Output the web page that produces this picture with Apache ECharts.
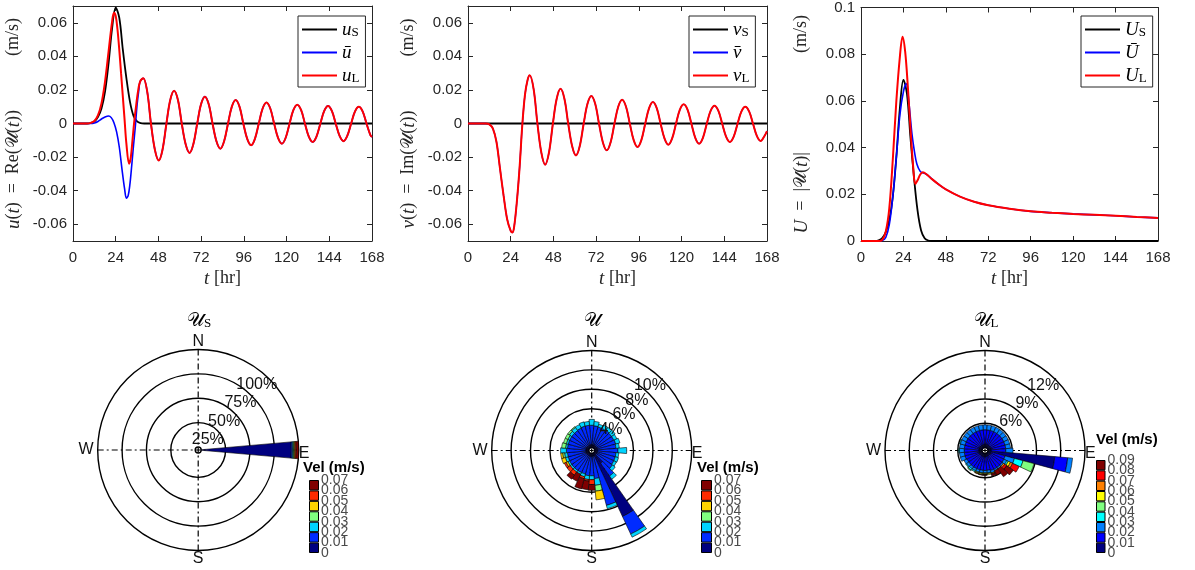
<!DOCTYPE html>
<html><head><meta charset="utf-8">
<script src="https://cdn.jsdelivr.net/npm/echarts@6/dist/echarts.min.js"></script>
<style>html,body{margin:0;padding:0;background:#fff}#c{width:1195px;height:570px}</style>
</head><body><div id="c"></div>
<script>
// ================= DATA =================
const xTicks = [0, 24, 48, 72, 96, 120, 144, 168];
const yTicksUV = [-0.06, -0.04, -0.02, 0, 0.02, 0.04, 0.06];
const yTicksMag = [0, 0.02, 0.04, 0.06, 0.08, 0.1];

// Stokes drift (u_S, also |U_S|)
const tS = [0, 8, 10, 12, 14, 16, 18, 20, 22, 24, 26, 28, 30, 32, 34, 36, 38, 40, 168];
const uS = [0, 0, 0.0003, 0.0012, 0.0038, 0.009, 0.019, 0.036, 0.057, 0.069, 0.063, 0.044, 0.027, 0.013, 0.0045, 0.0012, 0.0002, 0, 0];

// u_L early part
const tULe = [0, 8, 10, 12, 14, 16, 18, 20, 22, 23, 24, 25, 26, 27, 28, 29, 30, 31.5, 32.5, 33.5, 34.5, 35.5, 36.5, 37.7];
const uLe  = [0, 0, 0.0004, 0.0015, 0.0048, 0.012, 0.025, 0.043, 0.061, 0.066, 0.064, 0.056, 0.044, 0.03, 0.016, 0.002, -0.012, -0.024, -0.02, -0.009, 0.002, 0.011, 0.019, 0.025];
// u-bar early part
const tUbe = [0, 10, 12, 14, 16, 18, 20, 21.5, 23, 24.5, 26, 27.5, 29, 30, 31, 32, 33, 34, 35, 36, 37, 37.7];
const uBe  = [0, 0, 0.0003, 0.0012, 0.0027, 0.0039, 0.0045, 0.0035, 0.0005, -0.005, -0.014, -0.027, -0.039, -0.0445, -0.043, -0.036, -0.025, -0.013, -0.002, 0.011, 0.02, 0.025];
// common inertial-oscillation tail of u_L and u-bar
const tUt = [39.5,41.7,43.8,46.0,48.2,50.3,52.5,54.6,56.8,59.0,61.1,63.3,65.5,67.6,69.8,71.9,74.1,76.3,78.4,80.6,82.8,84.9,87.1,89.2,91.4,93.6,95.7,97.9,100.1,102.2,104.4,106.5,108.7,110.9,113.0,115.2,117.4,119.5,121.7,123.8,126.0,128.2,130.3,132.5,134.7,136.8,139.0,141.1,143.3,145.5,147.6,149.8,152.0,154.1,156.3,158.4,160.6,162.8,164.9,167.1,168];
const uTail = [0.027,0.019,0,-0.0156,-0.022,-0.0156,0,0.0138,0.0195,0.0138,0,-0.0124,-0.0175,-0.0124,0,0.0113,0.016,0.0113,0,-0.0106,-0.015,-0.0106,0,0.0099,0.014,0.0099,0,-0.0092,-0.013,-0.0092,0,0.0088,0.0125,0.0088,0,-0.0085,-0.012,-0.0085,0,0.0079,0.0112,0.0079,0,-0.0078,-0.011,-0.0078,0,0.0074,0.0105,0.0074,0,-0.0074,-0.0105,-0.0074,0,0.0071,0.010,0.0071,0,-0.0069,-0.008];

// v
const tVS = [0, 168];
const vS = [0, 0];
const tVe = [0, 10, 12, 14, 16, 18, 20, 22, 24, 25, 26, 27.5, 29, 30.5, 32, 33.5];
const vLe = [0, 0, -0.0005, -0.003, -0.011, -0.027, -0.043, -0.057, -0.064, -0.065, -0.061, -0.046, -0.026, -0.001, 0.017, 0.026];
const tVt = [34.7,36.9,39.0,41.2,43.35,45.5,47.7,49.8,52.0,54.2,56.3,58.5,60.65,62.8,65.0,67.1,69.3,71.5,73.6,75.8,77.95,80.1,82.3,84.4,86.6,88.8,90.9,93.1,95.25,97.4,99.6,101.7,103.9,106.1,108.2,110.4,112.55,114.7,116.9,119.0,121.2,123.4,125.5,127.7,129.85,132.0,134.2,136.3,138.5,140.7,142.8,145.0,147.15,149.3,151.5,153.6,155.8,158.0,160.1,162.3,164.45,166.6,168];
const vTail = [0.0287,0.0203,0,-0.0173,-0.0245,-0.0173,0,0.0146,0.0207,0.0146,0,-0.0134,-0.019,-0.0134,0,0.0116,0.0164,0.0116,0,-0.0113,-0.016,-0.0113,0,0.0100,0.0142,0.0100,0,-0.0099,-0.014,-0.0099,0,0.0090,0.0128,0.0090,0,-0.0089,-0.0126,-0.0089,0,0.0081,0.0114,0.0081,0,-0.0085,-0.012,-0.0085,0,0.0075,0.0106,0.0075,0,-0.0078,-0.011,-0.0078,0,0.0071,0.010,0.0071,0,-0.0074,-0.0104,-0.0074,-0.0045];

// magnitudes
const tMLe = [0, 10, 12, 14, 16, 18, 20, 22, 23.5, 25, 26.5, 28, 29.5, 30.7, 32, 33.5, 35];
const mLe  = [0, 0, 0.0005, 0.004, 0.014, 0.035, 0.060, 0.079, 0.0875, 0.081, 0.066, 0.048, 0.032, 0.0244, 0.026, 0.0285, 0.0294];
const tMBe = [0, 10, 12, 14, 16, 18, 20, 22, 24, 25.6, 27, 28.8, 30.3, 31.6, 33.5, 35];
const mBe  = [0, 0, 0.0002, 0.0015, 0.007, 0.019, 0.036, 0.054, 0.064, 0.0674, 0.060, 0.046, 0.038, 0.033, 0.0298, 0.0292];
const tMt  = [37, 40, 44, 48, 56, 64, 72, 84, 96, 108, 120, 132, 144, 156, 168];
const mTail = [0.0286, 0.0266, 0.0242, 0.0221, 0.0190, 0.0168, 0.0153, 0.0138, 0.0127, 0.0121, 0.0116, 0.0112, 0.0108, 0.0103, 0.0099];

// wind roses: percentage of time per 10-degree direction sector (index k -> k*10 deg from N), per speed bin
const dirCats = ['0','10','20','30','40','50','60','70','80','90','100','110','120','130','140','150','160','170','180','190','200','210','220','230','240','250','260','270','280','290','300','310','320','330','340','350'];
const roseS_dir = 9;                 // all of U_S points east
const roseS_E = [92.5, 1.2, 1.0, 0.9, 0.9, 1.1, 2.4];
const roseMean = [
 [.3,.3,.3,.3,.3,.3,.3,.3,.3,.3,.3,.3,.3,.3,1.3,7.2,.3,.3,.3,.3,.3,.3,.3,.3,.3,.3,.3,.3,.3,.3,.3,.3,.3,.3,.3,.3],
 [2.0,1.95,1.9,1.9,1.95,1.9,1.9,1.95,1.9,2.1,1.9,1.9,1.9,2.0,1.6,2.0,5.25,2.3,2.0,2.0,1.9,1.9,1.9,1.9,1.9,1.9,1.9,2.0,1.9,1.9,1.9,1.9,1.9,1.95,2.0,2.0],
 [.6,.45,.3,.4,.35,.45,.35,.45,.35,.9,.3,.35,.3,.35,.4,.35,.35,.7,.4,.4,.3,.2,.2,.2,.2,.3,.3,.6,.2,.2,.2,.3,.4,.4,.45,.4],
 [0,0,0,0,0,0,0,0,0,0,0,0,0,0,0,0,0,.6,0,0,0,0,0,0,0,0,.2,0,.4,.3,.3,.2,.1,0,0,0],
 [0,0,0,0,0,0,0,0,0,0,0,0,0,0,0,0,0,.9,0,0,0,0,0,0,.2,.4,.2,0,0,0,0,0,0,0,0,0],
 [0,0,0,0,0,0,0,0,0,0,0,0,0,0,0,0,0,0,.5,.15,.2,0,.4,.4,.2,0,0,0,0,0,0,0,0,0,0,0],
 [0,0,0,0,0,0,0,0,0,0,0,0,0,0,0,0,0,0,.6,.9,1.1,.8,.5,0,0,0,0,0,0,0,0,0,0,0,0,0]
];
const roseL = [
 [.4,.4,.4,.4,.4,.4,.4,.4,.4,.4,8.3,.4,.4,.4,.4,.4,.4,.4,.4,.4,.4,.4,.4,.4,.4,.4,.4,.4,.4,.4,.4,.4,.4,.4,.4,.4],
 [1.8,1.8,1.8,1.8,1.8,1.8,1.8,1.8,1.8,1.8,1.6,1.8,1.8,1.8,1.8,1.8,1.8,1.7,1.7,1.7,1.7,1.7,1.7,1.7,1.7,1.8,1.8,1.8,1.8,1.8,1.8,1.8,1.8,1.8,1.8,1.8],
 [.6,.6,.6,.6,.6,.6,.6,.6,.6,.9,.6,1.2,.4,.2,.2,.2,.3,.3,.3,.3,.3,.3,.3,.35,.4,.6,.6,.6,.6,.6,.6,.6,.6,.6,.6,.6],
 [0,0,0,0,0,0,0,0,0,0,0,1.1,.2,0,0,0,0,.1,0,.1,0,.15,.2,.1,0,0,0,.1,0,.1,0,0,0,0,0,0],
 [0,0,0,0,0,0,0,0,0,0,0,1.4,0,0,0,0,0,0,.1,0,.1,0,.1,0,0,0,0,0,0,0,0,0,0,0,0,0],
 [0,0,0,0,0,0,0,0,0,0,0,0,.3,0,0,0,.1,.15,.1,.15,.1,0,0,0,0,0,0,0,0,0,0,0,0,0,0,0],
 [0,0,0,0,0,0,0,0,0,0,0,0,.3,.2,0,0,0,0,.05,0,.05,0,0,0,0,0,0,0,0,0,0,0,0,0,0,0],
 [0,0,0,0,0,0,0,0,0,0,0,0,.9,.3,0,0,.1,0,0,0,0,0,0,0,0,0,0,0,0,0,0,0,0,0,0,0],
 [0,0,0,0,0,0,0,0,0,0,0,0,0,1.0,1.2,.6,.2,0,.05,.05,0,0,0,0,0,0,0,0,0,0,0,0,0,0,0,0]
];
const ringLabelsS = [25, 50, 75, 100];
const ringLabelsM = [4, 6, 8, 10];
const ringLabelsL = [6, 9, 12];
const velEdges7 = [0, 0.01, 0.02, 0.03, 0.04, 0.05, 0.06, 0.07];
const velEdges9 = [0, 0.01, 0.02, 0.03, 0.04, 0.05, 0.06, 0.07, 0.08, 0.09];

// ================= STYLE =================
const jet7 = ['#000080', '#002BFF', '#00D4FF', '#80FF80', '#FFD400', '#FF2B00', '#800000'];
const jet9 = ['#000080', '#0000FF', '#0080FF', '#00FFFF', '#80FF80', '#FFFF00', '#FF8000', '#FF0000', '#800000'];
const AX = '#262626';
const SANS = 'Liberation Sans';
const SERIF = 'Liberation Serif';
const SCRIPT = 'DejaVu Sans';

const pairs = (t, v) => t.map((x, i) => [x, v[i]]);
const fmt = v => String(+(+v).toFixed(3));
const sp = n => ' '.repeat(n);
// split a label list into alternating halves so neighbouring labels never sit on the same axis
const halves = a => [a.filter((_, i) => i % 2 === 0), a.filter((_, i) => i % 2 === 1)];

const chart = echarts.init(document.getElementById('c'));

const grids = [
  {left: 73, top: 6, width: 299, height: 235},
  {left: 468, top: 6, width: 299, height: 235},
  {left: 861, top: 6, width: 297, height: 235},
  {left: 309, top: 480, width: 10, height: 73},
  {left: 701, top: 480, width: 11, height: 73},
  {left: 1096, top: 460, width: 9.5, height: 93}
];

const nameRich = {
  i: {fontFamily: SERIF, fontStyle: 'italic', fontSize: 19, color: AX},
  c: {fontFamily: SCRIPT, fontSize: 17, color: AX}
};
const yNames = [
  '{i|u}({i|t})  =  Re({c|𝒰}({i|t}))' + sp(12) + '(m/s)',
  '{i|v}({i|t})  =  Im({c|𝒰}({i|t}))' + sp(12) + '(m/s)',
  '{i|U}  =  |{c|𝒰}({i|t})|' + sp(22) + '(m/s)'
];
const yRanges = [[-0.07, 0.07, yTicksUV], [-0.07, 0.07, yTicksUV], [0, 0.1, yTicksMag]];

const xAxes = [], yAxes = [];
for (let g = 0; g < 3; g++) {
  const tick = {show: true, inside: true, length: 5, lineStyle: {color: AX, width: 1}};
  const line = {show: true, onZero: false, lineStyle: {color: AX, width: 1}};
  xAxes.push({type: 'value', gridIndex: g, position: 'bottom', min: 0, max: 168, interval: 24,
    axisLine: line, axisTick: tick, splitLine: {show: false},
    axisLabel: {margin: 9, fontSize: 15, color: AX, fontFamily: SANS, customValues: xTicks},
    name: '{i|t} [hr]', nameLocation: 'middle', nameGap: 28,
    nameTextStyle: {fontFamily: SERIF, fontSize: 18, color: AX, rich: nameRich}});
  xAxes.push({type: 'value', gridIndex: g, position: 'top', min: 0, max: 168, interval: 24,
    axisLine: line, axisTick: tick, axisLabel: {show: false}, splitLine: {show: false}});
  const [mn, mx, tk] = yRanges[g];
  yAxes.push({type: 'value', gridIndex: g, position: 'left', min: mn, max: mx,
    axisLine: line, axisTick: Object.assign({customValues: tk}, tick), splitLine: {show: false},
    axisLabel: {customValues: tk, margin: 6, fontSize: 15, color: AX, fontFamily: SANS, formatter: fmt},
    name: yNames[g], nameLocation: 'middle', nameRotate: 90, nameGap: 50,
    nameTextStyle: {fontFamily: SERIF, fontSize: 18, color: AX, rich: nameRich}});
  yAxes.push({type: 'value', gridIndex: g, position: 'right', min: mn, max: mx,
    axisLine: line, axisTick: Object.assign({customValues: tk}, tick), axisLabel: {show: false}, splitLine: {show: false}});
}
// colorbar axes: yAxis 6..8 carry the bars, 9..11 carry the other half of the labels
const cbEdges = [velEdges7, velEdges7, velEdges9];
const cbColors = [jet7, jet7, jet9];
const cbLabel = vals => ({show: true, customValues: vals, showMinLabel: true, showMaxLabel: true,
  margin: 2, fontSize: 14, color: '#4a4a4a', fontFamily: SANS, formatter: fmt});
for (let j = 0; j < 3; j++) {
  xAxes.push({type: 'category', gridIndex: 3 + j, data: ['v'], show: false});
}
for (let h = 0; h < 2; h++) {
  for (let j = 0; j < 3; j++) {
    const e = cbEdges[j];
    yAxes.push({type: 'value', gridIndex: 3 + j, position: 'right', offset: 0, min: 0, max: e[e.length - 1], interval: 0.01,
      axisLine: {show: false}, axisTick: {show: false}, splitLine: {show: false},
      axisLabel: cbLabel(halves(e)[h])});
  }
}

const series = [];
const lineS = (name, xi, data, color, w) => ({
  name, type: 'line', xAxisIndex: xi, yAxisIndex: xi, data, color,
  showSymbol: false, symbol: 'none', smooth: 0.35, lineStyle: {width: w, color}, silent: true
});
series.push(lineS('uS', 0, pairs(tS, uS), '#000000', 1.8));
series.push(lineS('ubar', 0, pairs(tUbe.concat(tUt), uBe.concat(uTail)), '#0000FF', 1.6));
series.push(lineS('uL', 0, pairs(tULe.concat(tUt), uLe.concat(uTail)), '#FF0000', 2));
series.push(lineS('vS', 2, pairs(tVS, vS), '#000000', 1.8));
series.push(lineS('vbar', 2, pairs(tVe.concat(tVt), vLe.concat(vTail)), '#0000FF', 1.4));
series.push(lineS('vL', 2, pairs(tVe.concat(tVt), vLe.concat(vTail)), '#FF0000', 2));
series.push(lineS('US', 4, pairs(tS, uS), '#000000', 1.8));
series.push(lineS('Ubar', 4, pairs(tMBe.concat(tMt), mBe.concat(mTail)), '#0000FF', 1.6));
series.push(lineS('UL', 4, pairs(tMLe.concat(tMt), mLe.concat(mTail)), '#FF0000', 2));

// colorbars
for (let j = 0; j < 3; j++) {
  const e = cbEdges[j];
  for (let b = 0; b < e.length - 1; b++) {
    series.push({type: 'bar', xAxisIndex: 6 + j, yAxisIndex: 6 + j, stack: 'cb' + j,
      data: [+(e[b + 1] - e[b]).toFixed(4)], barWidth: '100%', silent: true,
      itemStyle: {color: cbColors[j][b], borderColor: '#000', borderWidth: 1}});
  }
}

// wind roses
const roseSBins = roseS_E.map(v => dirCats.map((_, k) => (k === roseS_dir ? v : 0)));
const roses = [
  {center: [198.2, 450], R: 100.5, M: 100, step: 25, lbl: ringLabelsS, bins: roseSBins, colors: jet7},
  {center: [591.7, 450.5], R: 100, M: 10, step: 2, lbl: ringLabelsM, bins: roseMean, colors: jet7},
  {center: [985, 450.5], R: 100, M: 12, step: 3, lbl: ringLabelsL, bins: roseL, colors: jet9}
];
const polars = [], angleAxes = [], radiusAxes = [];
const LBL_OFF = 13;
const cardRich = {
  n: {fontFamily: SANS, fontSize: 16, color: '#111'},
  w: {fontFamily: SANS, fontSize: 16, color: '#111', padding: [0, 4, 0, 0]},
  e: {fontFamily: SANS, fontSize: 16, color: '#111', padding: [7, 0, 0, 0]}
};
const cardFmt = v => ({0: '{n|N}', 90: '{e|E}', 180: '{n|S}', 270: '{w|W}'})[v] || '';
roses.forEach((r, i) => {
  const p0 = polars.length;
  polars.push({center: r.center, radius: [3, r.R]});
  polars.push({center: r.center, radius: [0, r.R]});
  angleAxes.push({polarIndex: p0, type: 'category', data: dirCats, startAngle: 95, clockwise: true, boundaryGap: true,
    axisLine: {show: false}, axisTick: {show: false}, axisLabel: {show: false}, splitLine: {show: false}});
  radiusAxes.push({polarIndex: p0, type: 'value', min: 0, max: r.M, interval: r.step,
    axisLine: {show: false}, axisTick: {show: false}, axisLabel: {show: false},
    splitLine: {show: true, lineStyle: {color: '#000', width: 1.4}}});
  angleAxes.push({polarIndex: p0 + 1, type: 'value', min: 0, max: 360, interval: 90, startAngle: 90, clockwise: true,
    axisLine: {show: false}, axisTick: {show: false},
    splitLine: {show: true, lineStyle: {color: '#000', width: 1.2, type: [6, 3, 2, 3]}},
    axisLabel: {show: true, margin: 0, formatter: cardFmt, rich: cardRich}});
  radiusAxes.push({polarIndex: p0 + 1, type: 'value', min: 0, max: r.M, show: false});
  // ring percentage labels, on a ray 42 deg east of north, in two alternating groups
  halves(r.lbl).forEach(vals => {
    const pi = polars.length;
    polars.push({center: r.center, radius: [0, r.R - LBL_OFF]});
    angleAxes.push({polarIndex: pi, type: 'value', min: 0, max: 360, startAngle: 48, clockwise: true, show: false});
    radiusAxes.push({polarIndex: pi, type: 'value', min: r.M * (LBL_OFF - 3) / (r.R - 3), max: r.M, z: 10,
      axisLine: {show: false}, axisTick: {show: false}, splitLine: {show: false},
      axisLabel: {show: true, customValues: vals, showMinLabel: true, showMaxLabel: true,
        formatter: '{value}%', margin: 0, align: 'center', verticalAlign: 'middle',
        fontSize: 16, color: '#111', fontFamily: SANS}});
  });
  r.bins.forEach((arr, b) => {
    series.push({type: 'bar', coordinateSystem: 'polar', polarIndex: p0, stack: 'rose' + i,
      data: arr.map(v => (v ? v : null)), barCategoryGap: '0%', silent: true,
      itemStyle: {color: r.colors[b], borderColor: '#000', borderWidth: 0.6}});
  });
});

const legendText = {uS: '{i|u}{s|S}', ubar: '{i|ū}', uL: '{i|u}{s|L}',
  vS: '{i|v}{s|S}', vbar: '{i|v̄}', vL: '{i|v}{s|L}',
  US: '{i|U}{s|S}', Ubar: '{i|Ū}', UL: '{i|U}{s|L}'};
const legRich = {
  i: {fontFamily: SERIF, fontStyle: 'italic', fontSize: 19, color: '#000'},
  s: {fontFamily: SERIF, fontSize: 13, color: '#000', lineHeight: 12, verticalAlign: 'bottom'}
};
const mkLegend = (left, names) => ({
  data: names, orient: 'vertical', left, top: 16, itemWidth: 35, itemHeight: 2, icon: 'rect', itemGap: 4,
  padding: [4, 6, 2, 4], borderColor: AX, borderWidth: 1, backgroundColor: '#fff', selectedMode: false,
  formatter: n => legendText[n], textStyle: {rich: legRich}
});

const titleRich = {
  s: {fontFamily: SCRIPT, fontSize: 19, fill: '#000'},
  b: {fontFamily: SERIF, fontSize: 13, fill: '#000', verticalAlign: 'bottom', lineHeight: 12}
};
const gText = (x, y, text, rich, align) => ({type: 'text', x, y, silent: true,
  style: {text, rich, align: align || 'center', verticalAlign: 'middle', fill: '#000'}});
const velStyle = {v: {fontFamily: SANS, fontWeight: 'bold', fontSize: 15, fill: '#000'}};

chart.setOption({
  animation: false,
  grid: grids,
  xAxis: xAxes,
  yAxis: yAxes,
  polar: polars,
  angleAxis: angleAxes,
  radiusAxis: radiusAxes,
  legend: [mkLegend(298, ['uS', 'ubar', 'uL']), mkLegend(689, ['vS', 'vbar', 'vL']), mkLegend(1081, ['US', 'Ubar', 'UL'])],
  series,
  graphic: [
    gText(199, 321, '{s|𝒰}{b|S}', titleRich),
    gText(592, 321, '{s|𝒰}', titleRich),
    gText(986, 321, '{s|𝒰}{b|L}', titleRich),
    gText(303, 468, '{v|Vel (m/s)}', velStyle, 'left'),
    gText(697, 468, '{v|Vel (m/s)}', velStyle, 'left'),
    gText(1096, 440, '{v|Vel (m/s)}', velStyle, 'left')
  ]
});
</script>
</body></html>
